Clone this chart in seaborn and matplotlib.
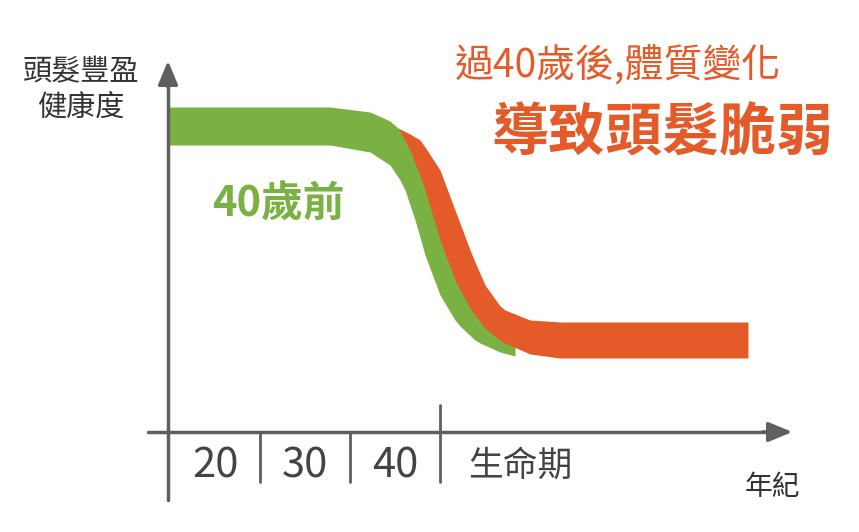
import matplotlib
matplotlib.use("Agg")
import matplotlib.pyplot as plt
import seaborn as sns

sns.set_theme(style="white")
plt.rcParams['font.family'] = ['Noto Sans CJK TC', 'DejaVu Sans']

GREEN = "#79b142"
ORANGE = "#e55a29"
GRAY = "#5f5f5f"

# pixel-space data (y grows downward)
green_x = [168, 330, 370, 390, 400, 405, 415, 420, 425, 440, 455, 460, 475, 480, 500, 515]
green_top = [107, 107, 112, 121, 130, 135, 150, 160, 172, 215, 256, 270, 302, 310, 325, 330]
green_bot = [145, 145, 152, 165, 180, 190, 220, 237, 255, 295, 320, 326, 340, 343, 352, 356]

orange_x = [398, 410, 420, 425, 440, 455, 470, 475, 485, 500, 505, 530, 560, 748]
orange_top = [128, 134, 140, 147, 170, 210, 250, 262, 285, 306, 310, 320, 322, 322]
orange_bot = [128, 150, 176, 190, 240, 280, 308, 315, 328, 340, 343, 354, 358, 358]

age_ticks = ["20", "30", "40"]
age_pos = [215, 305, 395]
sep_pos = [260, 350, 440]

fig = plt.figure(figsize=(8.59, 5.32), dpi=100)
ax = fig.add_axes([0, 0, 1, 1])
ax.set_xlim(0, 859)
ax.set_ylim(532, 0)
ax.axis("off")

ax.fill_between(green_x, green_top, green_bot, color=GREEN, lw=0)
ax.fill_between(orange_x, orange_top, orange_bot, color=ORANGE, lw=0)

# axes with arrows
ax.plot([168, 168], [500, 85], color=GRAY, lw=2.5)
ax.annotate("", xy=(168, 58), xytext=(168, 90),
            arrowprops=dict(arrowstyle="-|>,head_width=0.5,head_length=1.2", color=GRAY, lw=2.5))
ax.plot([148, 765], [432, 432], color=GRAY, lw=2.5)
ax.annotate("", xy=(795, 432), xytext=(760, 432),
            arrowprops=dict(arrowstyle="-|>,head_width=0.5,head_length=1.2", color=GRAY, lw=2.5))
for s in sep_pos:
    ax.plot([s, s], [432, 482], color=GRAY, lw=2)
ax.plot([440, 440], [405, 432], color=GRAY, lw=2)

for p, t in zip(age_pos, age_ticks):
    ax.text(p, 466, t, color="#444444", fontsize=30, fontweight="medium", ha="center", va="center")
ax.text(520, 466, "生命期", color="#444444", fontsize=25, fontweight="medium", ha="center", va="center")
ax.text(772, 487, "年紀", color="#333333", fontsize=20, fontweight="medium", ha="center", va="center")
ax.text(81, 90, "頭髮豐盈\n健康度", color="#333333", fontsize=21, fontweight="medium",
        ha="center", va="center", linespacing=1.2)

ax.text(278, 205, "40歲前", color=GREEN, fontsize=30, fontweight="bold", ha="center", va="center")
ax.text(618, 65, "過40歲後,體質變化", color=ORANGE, fontsize=28, fontweight="medium",
        ha="center", va="center")
ax.text(662, 132, "導致頭髮脆弱", color=ORANGE, fontsize=41, fontweight="bold", ha="center", va="center")

fig.savefig("out.png", dpi=100)
